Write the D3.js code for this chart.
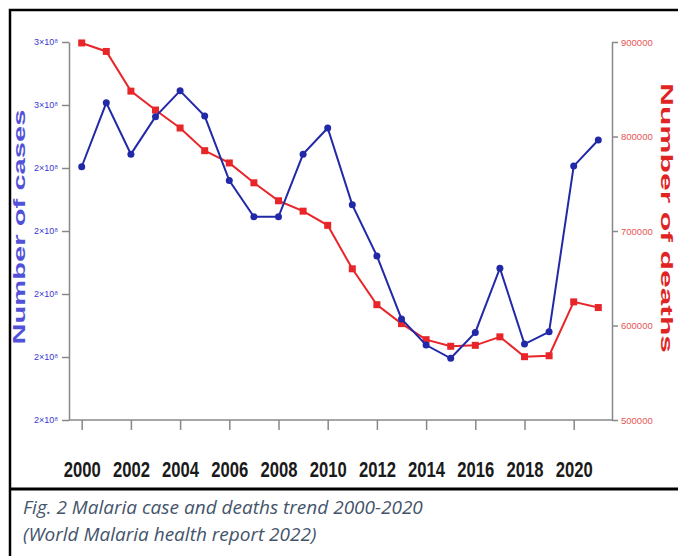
<!DOCTYPE html>
<html>
<head>
<meta charset="utf-8">
<script src="https://cdn.jsdelivr.net/npm/d3@7"></script>
<style>
  body { margin: 0; background: #fff; }
  svg { display: block; }
  .caption { font-family: 'Open Sans', sans-serif; font-style: italic; font-size: 19px; fill: #44546a; }
</style>
</head>
<body>
<svg width="678" height="556"></svg>
<script>
// data
const years = [2000, 2001, 2002, 2003, 2004, 2005, 2006, 2007, 2008, 2009, 2010,
  2011, 2012, 2013, 2014, 2015, 2016, 2017, 2018, 2019, 2020, 2021];
const cases = [240400000, 260700000, 244400000, 256300000, 264500000, 256500000,
  236000000, 224500000, 224500000, 244400000, 252700000, 228300000, 212100000,
  192100000, 183800000, 179600000, 187800000, 208200000, 184100000, 188000000,
  240600000, 248900000];
const deaths = [899000, 890000, 848000, 828000, 809000, 785000, 772000, 751000,
  732000, 721000, 706000, 660000, 622000, 602000, 585000, 578000, 579000, 588000,
  567000, 568000, 625000, 619000];

const xTicks = [2000, 2002, 2004, 2006, 2008, 2010, 2012, 2014, 2016, 2018, 2020];
const caseTicks = [160000000, 180000000, 200000000, 220000000, 240000000, 260000000, 280000000];
const caseTickLabels = ['2×10⁸', '2×10⁸', '2×10⁸', '2×10⁸', '2×10⁸', '3×10⁸', '3×10⁸'];
const deathTicks = [500000, 600000, 700000, 800000, 900000];

const svg = d3.select('svg');

// frame of the figure
svg.append('path')
  .attr('d', 'M10,556 V10 H678')
  .attr('fill', 'none')
  .attr('stroke', '#000')
  .attr('stroke-width', 2.5);
svg.append('line')
  .attr('x1', 10).attr('x2', 678)
  .attr('y1', 489).attr('y2', 489)
  .attr('stroke', '#000')
  .attr('stroke-width', 3);

// scales
const x = d3.scaleLinear().domain([2000, 2021]).range([81.7, 598.3]);
const yCases = d3.scaleLinear().domain([160000000, 280000000]).range([420, 42]);
const yDeaths = d3.scaleLinear().domain([500000, 900000]).range([420, 42]);

const axisLeftX = 69;
const axisRightX = 612;

// x axis
const xAxisG = svg.append('g')
  .attr('transform', 'translate(0,420)')
  .call(d3.axisBottom(x).tickValues(xTicks).tickFormat(d3.format('d')).tickSize(10).tickPadding(0).tickSizeOuter(0));
xAxisG.select('.domain').attr('d', `M${axisLeftX},0H${axisRightX}`);
xAxisG.selectAll('line, .domain').attr('stroke', '#888').attr('stroke-width', 1.5);
xAxisG.selectAll('text')
  .attr('y', 57)
  .attr('dy', 0)
  .attr('transform', 'scale(0.74,1)')
  .attr('fill', '#1a1a1a')
  .style('font-family', "'Liberation Sans', Arial, sans-serif")
  .style('font-weight', 700)
  .style('font-size', '22.5px');

// left axis, cases
const yLeftG = svg.append('g')
  .attr('transform', `translate(${axisLeftX},0)`)
  .call(d3.axisLeft(yCases).tickValues(caseTicks)
    .tickFormat((d, i) => caseTickLabels[i]).tickSize(7).tickPadding(4).tickSizeOuter(0));
yLeftG.selectAll('line, .domain').attr('stroke', '#888').attr('stroke-width', 1.5);
yLeftG.selectAll('text')
  .attr('fill', '#3838d0')
  .style('font-family', "'Liberation Sans', Arial, sans-serif")
  .style('font-size', '9px');

// right axis, deaths
const yRightG = svg.append('g')
  .attr('transform', `translate(${axisRightX},0)`)
  .call(d3.axisRight(yDeaths).tickValues(deathTicks)
    .tickFormat(d3.format('d')).tickSize(6).tickPadding(3).tickSizeOuter(0));
yRightG.selectAll('line, .domain').attr('stroke', '#888').attr('stroke-width', 1.5);
yRightG.selectAll('text')
  .attr('fill', '#e85555')
  .style('font-family', "'Liberation Sans', Arial, sans-serif")
  .style('font-size', '9.5px');

// axis titles
svg.append('text')
  .attr('transform', 'translate(25,227) rotate(-90)')
  .attr('text-anchor', 'middle')
  .attr('textLength', 235)
  .attr('lengthAdjust', 'spacingAndGlyphs')
  .attr('fill', '#5252d8')
  .style('font-family', "'Liberation Sans', Arial, sans-serif")
  .style('font-weight', 700)
  .style('font-size', '17px')
  .text('Number of cases');

svg.append('text')
  .attr('transform', 'translate(661,218) rotate(90)')
  .attr('text-anchor', 'middle')
  .attr('textLength', 270)
  .attr('lengthAdjust', 'spacingAndGlyphs')
  .attr('fill', '#e02424')
  .style('font-family', "'Liberation Sans', Arial, sans-serif")
  .style('font-weight', 700)
  .style('font-size', '17px')
  .text('Number of deaths');

// lines
const deathLine = d3.line()
  .x((d, i) => x(years[i]))
  .y(d => yDeaths(d));
const caseLine = d3.line()
  .x((d, i) => x(years[i]))
  .y(d => yCases(d));

svg.append('path')
  .attr('d', deathLine(deaths))
  .attr('fill', 'none')
  .attr('stroke', '#e8262a')
  .attr('stroke-width', 2);

svg.selectAll('.death-pt')
  .data(deaths)
  .join('rect')
  .attr('class', 'death-pt')
  .attr('x', (d, i) => x(years[i]) - 3.5)
  .attr('y', d => yDeaths(d) - 3.5)
  .attr('width', 7)
  .attr('height', 7)
  .attr('fill', '#e8262a');

svg.append('path')
  .attr('d', caseLine(cases))
  .attr('fill', 'none')
  .attr('stroke', '#2229a8')
  .attr('stroke-width', 2);

svg.selectAll('.case-pt')
  .data(cases)
  .join('circle')
  .attr('class', 'case-pt')
  .attr('cx', (d, i) => x(years[i]))
  .attr('cy', d => yCases(d))
  .attr('r', 3.5)
  .attr('fill', '#2229a8');

// caption
svg.append('text')
  .attr('class', 'caption')
  .attr('x', 23)
  .attr('y', 514)
  .text('Fig. 2 Malaria case and deaths trend 2000-2020');
svg.append('text')
  .attr('class', 'caption')
  .attr('x', 23)
  .attr('y', 541)
  .text('(World Malaria health report 2022)');
</script>
</body>
</html>
